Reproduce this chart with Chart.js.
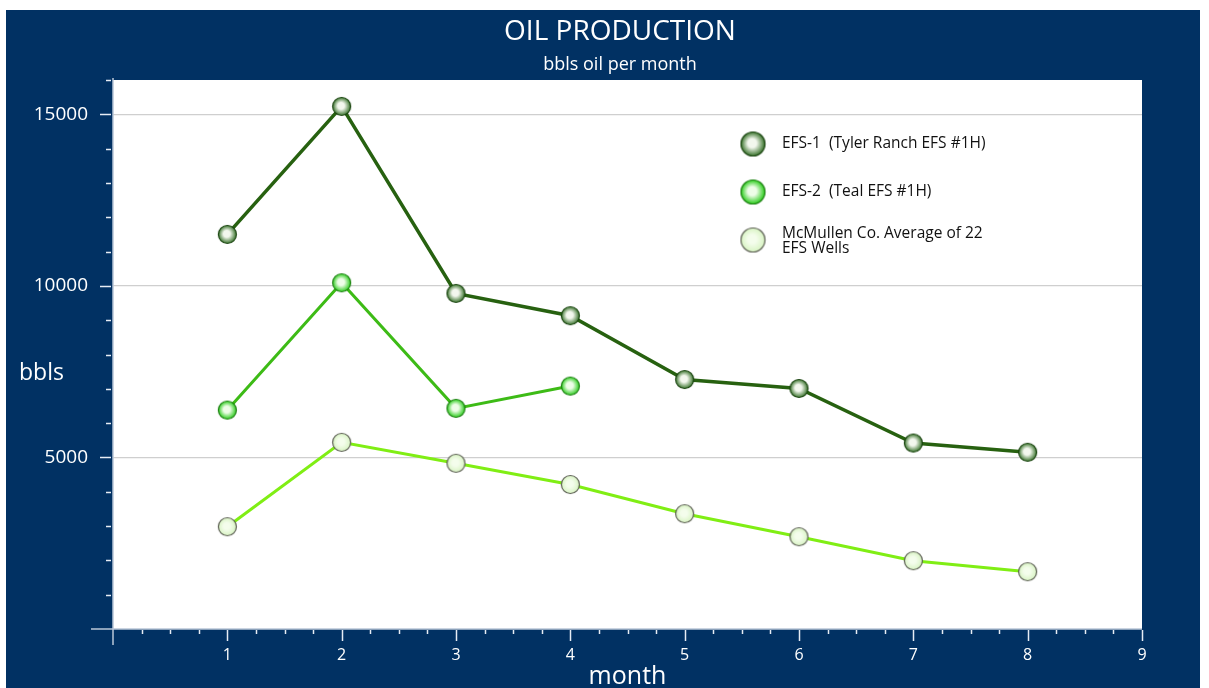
<!DOCTYPE html>
<html>
<head>
<meta charset="utf-8">
<script src="https://cdn.jsdelivr.net/npm/chart.js@4"></script>
<style>
  body { margin: 0; background: #ffffff; }
  #wrap { position: absolute; left: 0; top: 0; width: 1209px; height: 688px; }
</style>
</head>
<body>
<div id="wrap"><canvas id="oil-chart" width="1209" height="688"></canvas></div>
<script>
// values (bbls of oil per month)
var months = [1, 2, 3, 4, 5, 6, 7, 8];
var efs1 = [11500, 15230, 9780, 9130, 7270, 7010, 5420, 5150];
var efs2 = [6380, 10090, 6430, 7080];
var mcmullen = [2980, 5440, 4830, 4210, 3360, 2690, 1990, 1670];
var seriesNames = ['EFS-1  (Tyler Ranch EFS #1H)', 'EFS-2  (Teal EFS #1H)', ['McMullen Co. Average of 22', 'EFS Wells']];
var yLabels = [5000, 10000, 15000];
var xLabels = [1, 2, 3, 4, 5, 6, 7, 8, 9];

var NAVY = '#013163';
var AXIS = '#b9c6d8';
var FONT = "'Open Sans', sans-serif";

// shaded ball used as a marker
function makeBall(d, center, edge, border) {
    var c = document.createElement('canvas');
    c.width = d + 2; c.height = d + 2;
    var g = c.getContext('2d');
    var r = d / 2, cx = r + 1, cy = r + 1;
    var grad = g.createRadialGradient(cx - r * 0.1, cy - r * 0.1, 0, cx, cy, r);
    grad.addColorStop(0, center);
    grad.addColorStop(0.35, center);
    grad.addColorStop(1, edge);
    g.beginPath();
    g.arc(cx, cy, r - 0.5, 0, Math.PI * 2);
    g.fillStyle = grad;
    g.fill();
    g.lineWidth = 1.2;
    g.strokeStyle = border;
    g.stroke();
    return c;
}

var styles = [
    { line: '#276110', w: 3.5, ball: ['#f3f7ee', '#2c6a1e', '#1a4410'] },
    { line: '#3dbb16', w: 3, ball: ['#eefde8', '#1ec90e', '#1b7e10'] },
    { line: '#80ee14', w: 3, ball: ['#f4fdec', '#d6f3c0', '#5b5e52'] }
];
var points = styles.map(function (s) { return makeBall(19, s.ball[0], s.ball[1], s.ball[2]); });
var legendPoints = styles.map(function (s) { return makeBall(25, s.ball[0], s.ball[1], s.ball[2]); });

function toXY(vals) {
    return vals.map(function (v, i) { return { x: months[i], y: v }; });
}

var background = {
    id: 'background',
    beforeDraw: function (chart) {
        var ctx = chart.ctx, a = chart.chartArea;
        ctx.save();
        ctx.fillStyle = NAVY;
        ctx.fillRect(6, 10, 1194, 678);
        ctx.fillStyle = '#ffffff';
        ctx.fillRect(a.left, a.top, a.right - a.left, a.bottom - a.top);
        ctx.restore();
    }
};

// axis lines, minor ticks, side label and legend
var decorations = {
    id: 'decorations',
    afterDraw: function (chart) {
        var ctx = chart.ctx, a = chart.chartArea;
        var ys = chart.scales.y, xs = chart.scales.x;
        ctx.save();
        ctx.strokeStyle = AXIS;
        ctx.lineWidth = 1.5;
        ctx.beginPath();
        ctx.moveTo(a.left, a.top - 2);
        ctx.lineTo(a.left, a.bottom + 16);
        ctx.moveTo(a.left - 22, a.bottom);
        ctx.lineTo(a.right, a.bottom);
        ctx.stroke();

        ctx.strokeStyle = '#e6ecf4';
        ctx.lineWidth = 1.5;
        ctx.beginPath();
        for (var v = 1000; v <= 16000; v += 1000) {
            var py = Math.round(ys.getPixelForValue(v)) + 0.5;
            var len = (v % 5000 === 0) ? 11 : 5;
            ctx.moveTo(a.left - 2 - len, py);
            ctx.lineTo(a.left - 2, py);
        }
        for (var m = 0.25; m <= 9; m += 0.25) {
            var px = Math.round(xs.getPixelForValue(m)) + 0.5;
            var l2 = (m % 1 === 0) ? 11 : 4;
            ctx.moveTo(px, a.bottom + 1);
            ctx.lineTo(px, a.bottom + 1 + l2);
        }
        ctx.stroke();

        ctx.fillStyle = '#ffffff';
        ctx.font = '23px ' + FONT;
        ctx.textAlign = 'left';
        ctx.textBaseline = 'middle';
        ctx.fillText('bbls', 19, 373);

        // legend inside the plot
        ctx.fillStyle = '#111111';
        ctx.font = '15.5px ' + FONT;
        var ly = [144, 192, 240];
        for (var i = 0; i < seriesNames.length; i++) {
            var img = legendPoints[i];
            ctx.drawImage(img, 753 - img.width / 2, ly[i] - img.height / 2);
            var t = seriesNames[i];
            if (Array.isArray(t)) {
                ctx.fillText(t[0], 782, ly[i] - 6);
                ctx.fillText(t[1], 782, ly[i] + 9);
            } else {
                ctx.fillText(t, 782, ly[i]);
            }
        }
        ctx.restore();
    }
};

var ctx = document.getElementById('oil-chart').getContext('2d');
var chart = new Chart(ctx, {
    type: 'line',
    data: {
        datasets: [
            { label: 'EFS-1', data: toXY(efs1) },
            { label: 'EFS-2', data: toXY(efs2) },
            { label: 'McMullen', data: toXY(mcmullen) }
        ].map(function (d, i) {
            d.borderColor = styles[i].line;
            d.borderWidth = styles[i].w;
            d.pointStyle = points[i];
            d.pointRadius = 9;
            d.tension = 0;
            d.fill = false;
            d.order = 3 - i;
            return d;
        })
    },
    options: {
        responsive: false,
        animation: false,
        layout: { padding: { left: 31, right: 0, top: 0, bottom: 0 } },
        plugins: {
            legend: { display: false },
            tooltip: { enabled: false },
            title: {
                display: true,
                text: 'OIL PRODUCTION',
                color: '#ffffff',
                font: { family: FONT, size: 28, weight: 'normal' },
                padding: { top: 15, bottom: 0 }
            },
            subtitle: {
                display: true,
                text: 'bbls oil per month',
                color: '#ffffff',
                font: { family: FONT, size: 18, weight: 'normal' },
                padding: { top: 5.6, bottom: 4.2 }
            }
        },
        scales: {
            x: {
                type: 'linear',
                min: 0,
                max: 9,
                afterFit: function (s) { s.height = 59; },
                grid: { display: false, drawTicks: false },
                border: { display: false },
                ticks: {
                    stepSize: 1,
                    padding: 17,
                    color: '#ffffff',
                    font: { family: FONT, size: 16 },
                    callback: function (v) { return xLabels.indexOf(v) >= 0 ? String(v) : ''; }
                },
                title: {
                    display: true,
                    text: 'month',
                    color: '#ffffff',
                    font: { family: FONT, size: 25, lineHeight: 0.75 },
                    padding: { top: 0, bottom: 2 }
                }
            },
            y: {
                min: 0,
                max: 16000,
                afterFit: function (s) { s.width = 82; },
                grid: {
                    drawTicks: false,
                    lineWidth: 1.2,
                    color: function (c) {
                        return yLabels.indexOf(c.tick.value) >= 0 ? '#cfcfcf' : 'rgba(0,0,0,0)';
                    }
                },
                border: { display: false },
                ticks: {
                    stepSize: 1000,
                    autoSkip: false,
                    padding: 25,
                    color: '#ffffff',
                    font: { family: FONT, size: 19 },
                    callback: function (v) { return yLabels.indexOf(v) >= 0 ? String(v) : ''; }
                }
            },
            // empty axis that only keeps the navy margin on the right
            right: {
                position: 'right',
                display: true,
                min: 0,
                max: 16000,
                afterFit: function (s) { s.width = 67; },
                grid: { display: false, drawTicks: false },
                border: { display: false },
                ticks: { display: false }
            }
        }
    },
    plugins: [background, decorations]
});
</script>
</body>
</html>
